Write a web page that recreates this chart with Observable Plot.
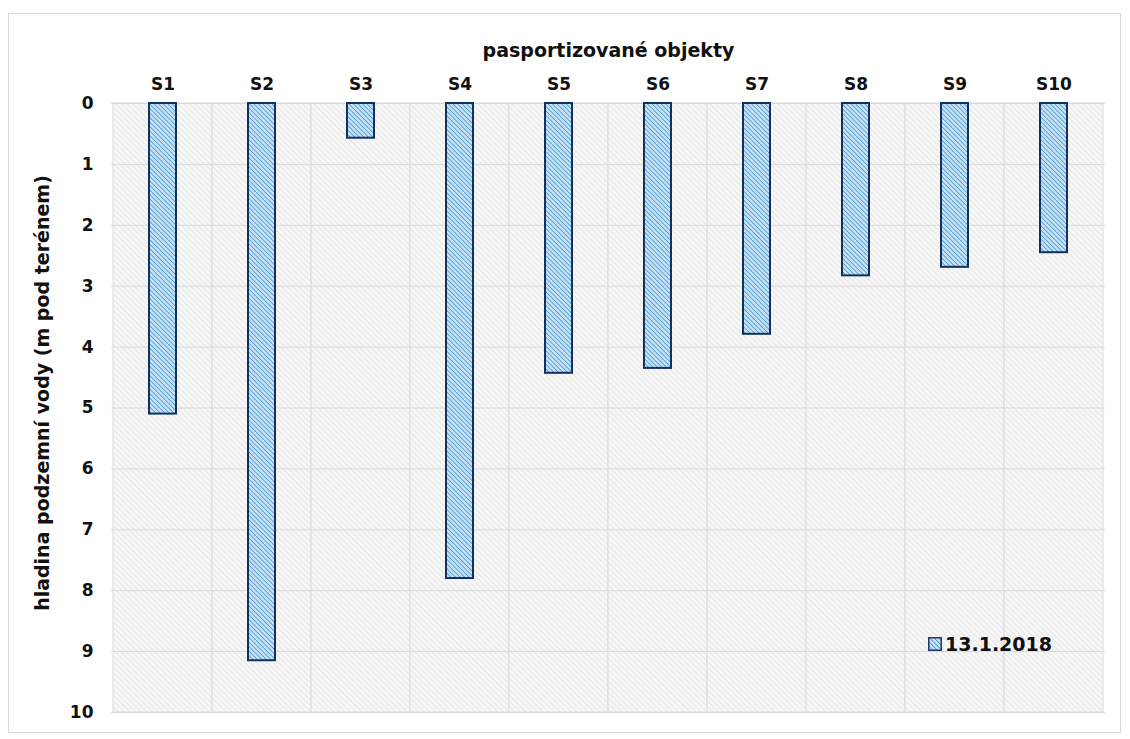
<!DOCTYPE html>
<html><head><meta charset="utf-8">
<script src="https://cdn.jsdelivr.net/npm/d3@7"></script>
<script src="https://cdn.jsdelivr.net/npm/@observablehq/plot@0.6"></script>
<style>
body{margin:0;background:#fff;font-family:"DejaVu Sans",Verdana,sans-serif;}
#wrap{position:relative;width:1130px;height:739px;}
#border{position:absolute;left:8px;top:13px;width:1113px;height:720px;border:1px solid #d9d9d9;box-sizing:border-box;}
#legend{position:absolute;left:928px;top:633px;display:flex;align-items:center;font-weight:bold;font-size:19px;color:#111;}
</style></head>
<body><div id="wrap"><div id="border"></div><div id="chart"></div>
<div id="legend"><svg width="14" height="14" style="margin-right:3px"><rect x="0.75" y="0.75" width="12.5" height="12.5" fill="url(#barHatch)" stroke="#1f3864" stroke-width="1.5"/></svg><span id="legtext"></span></div></div>
<script>
const categories = ["S1","S2","S3","S4","S5","S6","S7","S8","S9","S10"];
const depths = [5.1, 9.15, 0.57, 7.8, 4.43, 4.35, 3.79, 2.83, 2.69, 2.45];
const yTicks = [0,1,2,3,4,5,6,7,8,9,10];
const seriesName = "13.1.2018";
const xTitle = "pasportizované objekty";
const yTitle = "hladina podzemní vody (m pod terénem)";

const data = categories.map((c,i)=>({cat:c, v:depths[i]}));

const plot = Plot.plot({
  width: 1130, height: 739,
  marginTop: 103, marginBottom: 27, marginLeft: 111, marginRight: 25,
  style: {fontFamily: "DejaVu Sans, Verdana, sans-serif", fontSize: "17px", fontWeight: "bold", color: "#111", background: "transparent"},
  x: {domain: categories, padding: 0, axis: null},
  y: {domain: [0,10], reverse: true, axis: null},
  marks: [
    Plot.barY(categories, {x: d=>d, y1: 0, y2: 10, fill: "url(#bgHatch)", stroke: "#dcdcdc", strokeWidth: 1}),
    Plot.ruleY(yTicks, {stroke: "#d9d9d9", strokeWidth: 1}),
    Plot.barY(data, {x: "cat", y1: 0, y2: "v", fill: "url(#barHatch)", stroke: "#14305e", strokeWidth: 2, insetLeft: 36, insetRight: 36}),
    Plot.axisX({anchor: "top", tickSize: 0, tickPadding: 14, label: null, fontSize: 17}),
    Plot.axisY({anchor: "left", ticks: yTicks, tickSize: 0, tickPadding: 18, label: null, fontSize: 17}),
    Plot.text([xTitle], {frameAnchor: "top", dy: -60, fontSize: 19, fontWeight: "bold"}),
    Plot.text([yTitle], {frameAnchor: "left", textAnchor: "middle", dx: -69, dy: -15, rotate: -90, fontSize: 19, fontWeight: "bold"})
  ]
});

const ns = "http://www.w3.org/2000/svg";
const defs = document.createElementNS(ns, "defs");
defs.innerHTML = `
<pattern id="bgHatch" patternUnits="userSpaceOnUse" width="4" height="4" patternTransform="rotate(-45)">
  <rect width="4" height="4" fill="#f7f7f7"/>
  <line x1="0" y1="0" x2="0" y2="4" stroke="#e2e2e2" stroke-width="1.6"/>
</pattern>
<pattern id="barHatch" patternUnits="userSpaceOnUse" width="3.2" height="3.2" patternTransform="rotate(-45)">
  <rect width="3.2" height="3.2" fill="#c4e2f6"/>
  <line x1="0" y1="0" x2="0" y2="3.2" stroke="#3583c4" stroke-width="1.3"/>
</pattern>`;
plot.insertBefore(defs, plot.firstChild);
document.getElementById("chart").appendChild(plot);
document.getElementById("legtext").textContent = seriesName;
</script></body></html>
